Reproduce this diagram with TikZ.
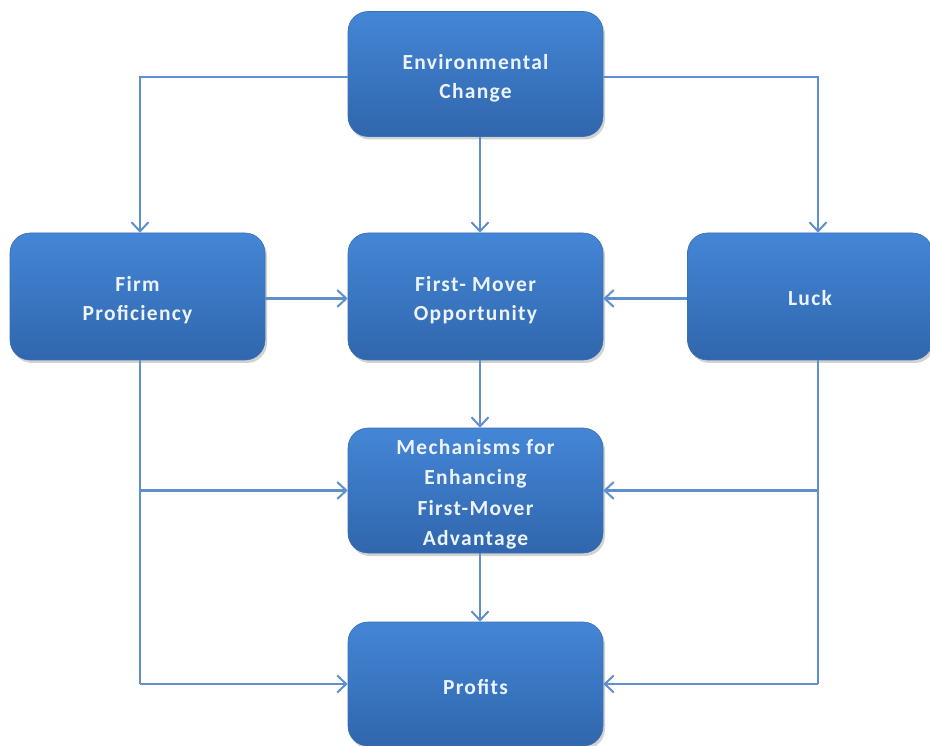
\documentclass[tikz,border=0pt]{standalone}
\usepackage{fontspec}
\setmainfont{Carlito}[LetterSpace=6]
\usetikzlibrary{arrows.meta,shadows}
\definecolor{boxtop}{RGB}{68,134,214}
\definecolor{boxbot}{RGB}{48,102,173}
\definecolor{boxedge}{RGB}{60,110,180}
\definecolor{linec}{RGB}{95,143,205}
\definecolor{txt}{RGB}{236,243,252}
\tikzset{
  box/.style={rectangle, rounded corners=20pt, top color=boxtop, bottom color=boxbot,
    draw=boxedge, line width=0.6pt, minimum width=255pt, minimum height=125pt,
    drop shadow={opacity=0.35, shadow xshift=2pt, shadow yshift=-3pt}},
  lbl/.style={align=center, text=txt, inner sep=0pt, yshift=-4pt,
    font=\fontsize{21.5}{29}\selectfont\bfseries},
  arr/.style={draw=linec, line width=2.3pt, -{Straight Barb[length=9pt,width=17pt,line width=2pt]}},
  ln/.style={draw=linec, line width=2.3pt}
}
\begin{document}
\begin{tikzpicture}[x=1pt,y=-1pt]
\useasboundingbox[fill=white] (0,0) rectangle (930,746);
\node[box] (env) at (475.5,74) {};
\node[box, minimum height=127pt] (firm) at (137.5,296.5) {};
\node[box, minimum height=127pt] (fmo) at (475.5,296.5) {};
\node[box, minimum width=245pt, minimum height=127pt] (luck) at (810,296.5) {};
\node[box] (mech) at (475.5,490.5) {};
\node[box, minimum height=124pt] (prof) at (475.5,684) {};
\node[lbl] (envt) at (env.center) {Environmental\\Change};
\node[lbl] (firmt) at (firm.center) {Firm\\Proficiency};
\node[lbl] (fmot) at (fmo.center) {First- Mover\\Opportunity};
\node[lbl, yshift=2pt] (luckt) at (luck.center) {Luck};
\node[lbl, font=\fontsize{21.5}{30.5}\selectfont\bfseries] (mecht) at (mech.center) {Mechanisms for\\Enhancing\\First-Mover\\Advantage};
\node[lbl, yshift=1pt] (proft) at (prof.center) {Profits};
% top connections
\coordinate (eL) at ([yshift=-3pt]env.west);
\coordinate (eR) at ([yshift=-3pt]env.east);
\draw[arr] (eL) -| ([xshift=2.5pt]firm.north);
\draw[arr] (eR) -| ([xshift=8pt]luck.north);
\draw[arr] ([xshift=4.5pt]env.south) -- ([xshift=4.5pt]fmo.north);
\draw[arr] ([yshift=-2pt]firm.east) -- ([yshift=-2pt]fmo.west);
\draw[arr] ([yshift=-2pt]luck.west) -- ([yshift=-2pt]fmo.east);
\draw[arr] ([xshift=4.5pt]fmo.south) -- ([xshift=4.5pt]mech.north);
\draw[arr] ([xshift=4.5pt]mech.south) -- ([xshift=4.5pt]prof.north);
% left side
\coordinate (fb) at ([xshift=2.5pt]firm.south);
\coordinate (fm) at (fb |- mech.west);
\coordinate (fp) at (fb |- prof.west);
\draw[ln] (fb) -- (fp);
\draw[arr] (fm) -- (mech.west);
\draw[arr] (fp) -- (prof.west);
% right side
\coordinate (lb) at ([xshift=8pt]luck.south);
\coordinate (lm) at (lb |- mech.east);
\coordinate (lp) at (lb |- prof.east);
\draw[ln] (lb) -- (lp);
\draw[arr] (lm) -- (mech.east);
\draw[arr] (lp) -- (prof.east);
\end{tikzpicture}
\end{document}
